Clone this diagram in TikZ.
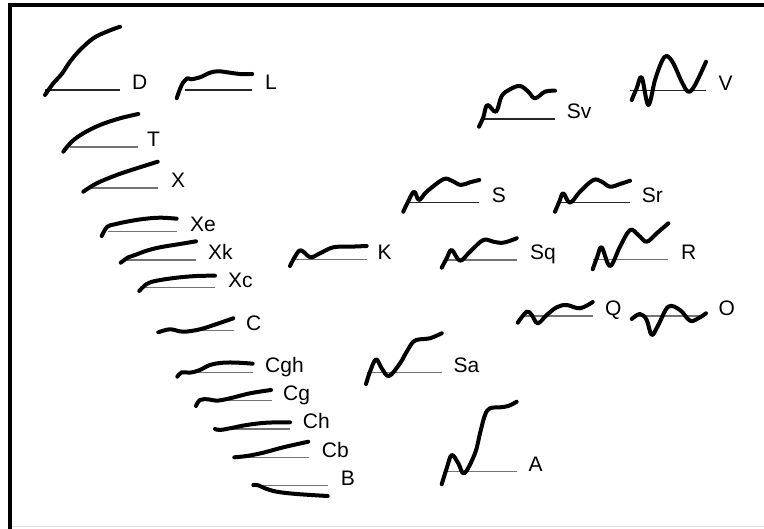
\documentclass[tikz,border=0pt]{standalone}
\usepackage{fontspec}
\setmainfont{Liberation Sans}
\begin{document}
\begin{tikzpicture}[x=1pt,y=-1pt,
  curve/.style={line width=4pt,line cap=round,line join=round},
  basek/.style={line width=1.1pt,black!85},
  baseg/.style={line width=1.2pt,black!55},
  lbl/.style={anchor=base west,inner sep=0pt,font=\fontsize{21}{24}\selectfont},
  frame/.style={line width=3.6pt}]
\useasboundingbox (0,0) rectangle (764,529);
% frame
\draw[black!12,line width=0.8pt] (10,526.8) -- (764,526.8);
\draw[frame] (8.3,5) -- (764,5);
\draw[frame] (9.8,3.3) -- (9.8,529);
% D
\draw[basek] (45,90) -- (120,90);
\draw[curve] plot[smooth,tension=0.6] coordinates {(45,95) (53.3,83.3) (61.7,74) (70,61.7) (80,50) (93.3,38.3) (106.7,31.7) (120,26.7)};
\node[lbl] (lD) at (132,90) {D};
% L
\draw[basek] (185,90) -- (252,90);
\draw[curve] plot[smooth,tension=0.6] coordinates {(176.7,98.3) (181.7,85) (187.3,78.3) (190.7,79.3) (200,77.3) (210,72.7) (218.3,71.3) (230,72.7) (240,74) (252.3,74)};
\node[lbl] (lL) at (265,90) {L};
% T
\draw[baseg] (70,147) -- (138,147);
\draw[curve] plot[smooth,tension=0.6] coordinates {(63.3,151.7) (71.7,141.7) (83.3,133.3) (100,125) (120,118.3) (138.3,114)};
\node[lbl] (lT) at (147,147) {T};
% X
\draw[baseg] (88,188) -- (158,188);
\draw[curve] plot[smooth,tension=0.6] coordinates {(83.3,191.7) (96.7,183.3) (116.7,175) (136.7,168.3) (157.7,161.7)};
\node[lbl] (lX) at (171,188) {X};
% Xe
\draw[baseg] (108,231.7) -- (177,231.7);
\draw[curve] plot[smooth,tension=0.6] coordinates {(101.7,236) (107.3,226.7) (115,224.3) (126.7,221.7) (143.3,219) (160,217.7) (176.7,218.7)};
\node[lbl] (lXe) at (190,231.7) {Xe};
% Xk
\draw[baseg] (127,260) -- (196,260);
\draw[curve] plot[smooth,tension=0.6] coordinates {(120.7,262.7) (128.3,257.3) (135,255) (146.7,250.7) (160,247.3) (180,244) (196,241.3)};
\node[lbl] (lXk) at (208,260) {Xk};
% Xc
\draw[baseg] (145,287.7) -- (215,287.7);
\draw[curve] plot[smooth,tension=0.6] coordinates {(139.3,291) (146.7,284) (156.7,280.7) (176.7,277.7) (196.7,276) (215,275.7)};
\node[lbl] (lXc) at (228,287.7) {Xc};
% C
\draw[baseg] (165,330.7) -- (234,330.7);
\draw[curve] plot[smooth,tension=0.6] coordinates {(158.3,332.3) (170,329.3) (183.3,331.7) (200,329.3) (216.7,324) (233.3,318.3)};
\node[lbl] (lC) at (246,330.7) {C};
% Cgh
\draw[baseg] (193,372.7) -- (252.7,372.7);
\draw[curve] plot[smooth,tension=0.6] coordinates {(177.3,376.7) (181.7,372.3) (190,372.7) (200,370) (210,365) (223.3,362.7) (238.3,362.7) (252.7,363.7)};
\node[lbl] (lCgh) at (265,372.7) {Cgh};
% Cg
\draw[baseg] (213,400.7) -- (271.7,400.7);
\draw[curve] plot[smooth,tension=0.6] coordinates {(196,406) (200,400) (208.3,399.3) (216.7,400.7) (230,398.3) (250,393.3) (271,390)};
\node[lbl] (lCg) at (283,400.7) {Cg};
% Ch
\draw[baseg] (228,429) -- (290,429);
\draw[curve] plot[smooth,tension=0.6] coordinates {(215,429) (220,430) (230,428.3) (246.7,425) (266.7,422.7) (290,422.3)};
\node[lbl] (lCh) at (302.7,429) {Ch};
% Cb
\draw[baseg] (246.7,457.3) -- (309,457.3);
\draw[curve] plot[smooth,tension=0.6] coordinates {(234.3,457.3) (246.7,456) (263.3,452.7) (283.3,447.3) (308.3,441.7)};
\node[lbl] (lCb) at (321.7,457.3) {Cb};
% B
\draw[baseg] (263,485.7) -- (328.3,485.7);
\draw[curve] plot[smooth,tension=0.6] coordinates {(253.3,485) (258.3,485.3) (265,488.3) (276.7,491.7) (296.7,494) (327.7,496)};
\node[lbl] (lB) at (340.7,485.7) {B};
% K
\draw[baseg] (294,259.3) -- (366.7,259.3);
\draw[curve] plot[smooth,tension=0.6] coordinates {(290,266) (294,258.3) (299.3,250.7) (303.3,251.7) (310.7,257.3) (320,253.3) (333.3,247.3) (350,246.7) (366.7,246)};
\node[lbl] (lK) at (377.3,259.3) {K};
% S
\draw[basek] (408.3,202.7) -- (479.3,202.7);
\draw[curve] plot[smooth,tension=0.6] coordinates {(403.3,211.7) (407.3,203.3) (414,191.7) (419,200) (426.7,191.7) (443.3,179.3) (451.7,180.7) (460.7,185) (470,182.3) (479.3,180)};
\node[lbl] (lS) at (491.7,202.7) {S};
% Sq
\draw[baseg] (445,260) -- (516.7,260);
\draw[curve] plot[smooth,tension=0.6] coordinates {(441.7,267.7) (446.7,258.3) (451.7,250) (460,260.7) (470,251.7) (483.3,240) (493.3,241.7) (503.3,242.7) (516.7,238.3)};
\node[lbl] (lSq) at (530,260) {Sq};
% R
\draw[baseg] (593,259.7) -- (668,259.7);
\draw[curve] plot[smooth,tension=0.6] coordinates {(592.7,269.3) (597.3,256.7) (601.7,247.3) (610,266) (620,246.7) (630,230) (638.3,235) (646.7,241.7) (656.7,233.3) (668.3,223.3)};
\node[lbl] (lR) at (681,260) {R};
% Sr
\draw[basek] (556.7,202.7) -- (630,202.7);
\draw[curve] plot[smooth,tension=0.6] coordinates {(555,211.7) (559.3,201.7) (563.3,193.3) (570,202.7) (580,191.7) (593.3,180) (601.7,181.7) (610,186.7) (620,184) (630,180.7)};
\node[lbl] (lSr) at (641.7,202.7) {Sr};
% Q
\draw[baseg] (523.3,316) -- (592.7,316);
\draw[curve] plot[smooth,tension=0.6] coordinates {(517.7,322.7) (526.7,311.7) (531.7,315) (537.7,323.3) (546.7,315) (556.7,307.3) (566.7,305) (580,308.3) (592.7,302)};
\node[lbl] (lQ) at (605,316) {Q};
% O
\draw[baseg] (633,316) -- (703,316);
\draw[curve] plot[smooth,tension=0.6] coordinates {(631.7,319) (640,314) (646.7,320) (651.7,335) (658.3,325) (668.3,306.7) (680,310) (690,320.7) (698.3,318.3) (706,313.3)};
\node[lbl] (lO) at (718.3,316) {O};
% Sa
\draw[baseg] (366.7,372.7) -- (441.7,372.7);
\draw[curve] plot[smooth,tension=0.6] coordinates {(366,384) (370,371.7) (376,359.3) (381.7,368.3) (389,376) (400,363.3) (406.7,351.7) (413.3,341.7) (420,339.3) (430,338.3) (441.7,333.3)};
\node[lbl] (lSa) at (453.3,372.7) {Sa};
% A
\draw[baseg] (445,471.7) -- (516.7,471.7);
\draw[curve] plot[smooth,tension=0.6] coordinates {(441.7,484.3) (446.7,468.3) (451.7,455) (458.3,463.3) (464.3,473.3) (475,453.3) (480,433.3) (485,415) (490,408.3) (500,407.3) (508.3,406) (516.7,401.7)};
\node[lbl] (lA) at (528.3,471.7) {A};
% Sv
\draw[basek] (483.3,119) -- (555,119);
\draw[curve] plot[smooth,tension=0.6] coordinates {(479,126.7) (483.3,117.3) (487.3,105) (496,111.7) (501.7,96) (510,89.3) (520,86) (528.3,91.7) (535,98.3) (545,91.7) (555,90.7)};
\node[lbl] (lSv) at (566.7,119) {Sv};
% V
\draw[basek] (630,90.7) -- (706,90.7);
\draw[curve] plot[smooth,tension=0.6] coordinates {(631.7,100) (636.7,88.3) (641.7,77.3) (648.3,105) (655,80) (661.7,61.7) (666.7,56) (673.3,63.3) (681.7,81.7) (688.3,91.7) (695,85) (706,61.7)};
\node[lbl] (lV) at (718.3,90.7) {V};
\end{tikzpicture}
\end{document}
